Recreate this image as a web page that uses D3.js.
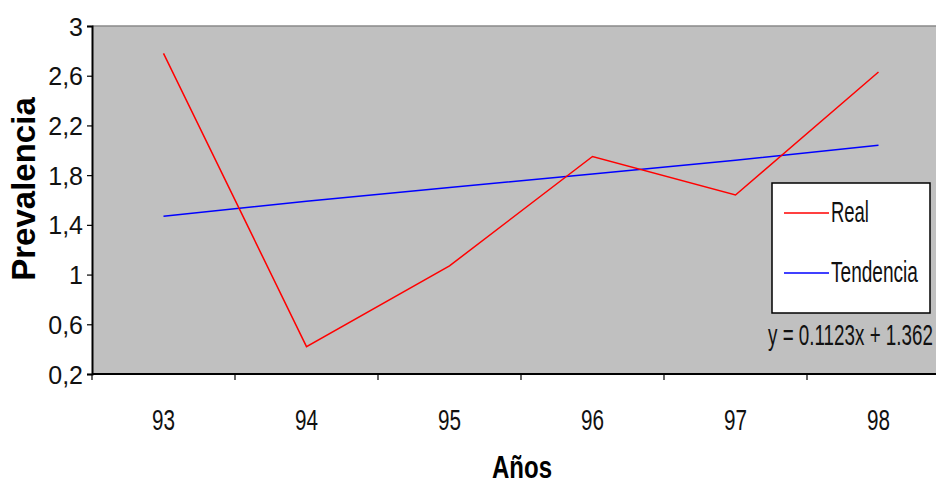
<!DOCTYPE html>
<html>
<head>
<meta charset="utf-8">
<script src="https://cdn.jsdelivr.net/npm/d3@7"></script>
<style>
  html, body { margin: 0; padding: 0; background: #fff; }
  svg { display: block; }
  text { font-family: "Liberation Sans Narrow", "Liberation Sans", Arial, sans-serif; }
</style>
</head>
<body>
<svg id="chart" width="936" height="485"></svg>
<script>
const years = ["93", "94", "95", "96", "97", "98"];
const realValues = [2.78, 0.42, 1.07, 1.95, 1.64, 2.63];
const trendValues = [1.47, 1.59, 1.70, 1.81, 1.92, 2.04];
const yTicks = [0.2, 0.6, 1, 1.4, 1.8, 2.2, 2.6, 3];
const seriesNames = ["Real", "Tendencia"];
const equationLabel = "y = 0.1123x + 1.362";
const xTitle = "Años";
const yTitle = "Prevalencia";

const svg = d3.select("#chart");
const plot = { left: 92, right: 950, top: 26, bottom: 374 };

const x = d3.scaleBand().domain(years).range([plot.left, plot.right]).paddingInner(0).paddingOuter(0);
const y = d3.scaleLinear().domain([0.2, 3]).range([plot.bottom, plot.top]);

// squeeze a text horizontally to a target width (anchor: "start" or "middle")
function squeezed(parent, str, px, py, size, width, anchor, attrs) {
  const t = parent.append("text")
    .attr("font-size", size)
    .attr("text-anchor", anchor)
    .attr("fill", "#111")
    .text(str);
  if (attrs) Object.entries(attrs).forEach(([k, v]) => t.attr(k, v));
  const natural = t.node().getComputedTextLength();
  const s = Math.min(1, width / natural);
  t.attr("transform", `translate(${px},${py}) scale(${s},1)`);
  return t;
}

// plot background
svg.append("rect")
  .attr("x", plot.left).attr("y", plot.top)
  .attr("width", plot.right - plot.left).attr("height", plot.bottom - plot.top)
  .attr("fill", "#c0c0c0");
svg.append("line")
  .attr("x1", plot.left).attr("x2", plot.right)
  .attr("y1", plot.top).attr("y2", plot.top)
  .attr("stroke", "#8a8a8a").attr("stroke-width", 1.5);

const fmt = d => String(+d.toFixed(1)).replace(".", ",");

// y axis
const yAxis = svg.append("g")
  .attr("transform", `translate(${plot.left},0)`)
  .call(d3.axisLeft(y).tickValues(yTicks).tickFormat(fmt).tickSize(5).tickPadding(4));
yAxis.select(".domain").attr("stroke", "#000").attr("stroke-width", 2);
yAxis.selectAll(".tick line").attr("stroke", "#000").attr("stroke-width", 1.2);
yAxis.selectAll(".tick text")
  .attr("font-family", "Liberation Sans Narrow, Liberation Sans, Arial, sans-serif")
  .attr("font-size", 25).attr("fill", "#111").attr("dy", "0.36em");

// x axis: ticks at band boundaries
const boundaries = years.map(d => x(d)).concat([x(years[years.length - 1]) + x.bandwidth()]);
const xAxisG = svg.append("g");
xAxisG.append("line")
  .attr("x1", plot.left).attr("x2", plot.right)
  .attr("y1", plot.bottom).attr("y2", plot.bottom)
  .attr("stroke", "#000").attr("stroke-width", 2);
xAxisG.selectAll("line.tk").data(boundaries).join("line")
  .attr("class", "tk")
  .attr("x1", d => d).attr("x2", d => d)
  .attr("y1", plot.bottom).attr("y2", plot.bottom + 6)
  .attr("stroke", "#000").attr("stroke-width", 1.2);
years.forEach(d => {
  squeezed(xAxisG, d, x(d) + x.bandwidth() / 2, 430, 30, 23, "middle");
});

// lines
const cx = d => x(d) + x.bandwidth() / 2;
const line = d3.line().x((d, i) => cx(years[i])).y(d => y(d));
svg.append("path").datum(trendValues)
  .attr("d", line).attr("fill", "none")
  .attr("stroke", "#0000ff").attr("stroke-width", 1.5);
svg.append("path").datum(realValues)
  .attr("d", line).attr("fill", "none")
  .attr("stroke", "#ff0000").attr("stroke-width", 1.5);

// legend
const lg = svg.append("g");
lg.append("rect")
  .attr("x", 772).attr("y", 183).attr("width", 158).attr("height", 130)
  .attr("fill", "#fff").attr("stroke", "#000").attr("stroke-width", 1.5);
const legendColors = ["#ff0000", "#0000ff"];
const legendRows = [213, 273];
const legendWidths = [38, 87];
seriesNames.forEach((name, i) => {
  lg.append("line")
    .attr("x1", 784).attr("x2", 829)
    .attr("y1", legendRows[i]).attr("y2", legendRows[i])
    .attr("stroke", legendColors[i]).attr("stroke-width", 1.5);
  squeezed(lg, name, 831, legendRows[i] + 9, 29, legendWidths[i], "start");
});

// equation
squeezed(svg, equationLabel, 768, 345, 29, 165, "start");

// axis titles
svg.append("text")
  .attr("transform", "translate(35,189) rotate(-90)")
  .attr("text-anchor", "middle")
  .attr("font-family", "Liberation Sans, Arial, sans-serif")
  .attr("font-weight", "bold")
  .attr("font-size", 33)
  .attr("fill", "#000")
  .text(yTitle);

squeezed(svg, xTitle, 522, 478, 32, 60, "middle", {
  "font-family": "Liberation Sans, Arial, sans-serif",
  "font-weight": "bold",
  "fill": "#000"
});
</script>
</body>
</html>
